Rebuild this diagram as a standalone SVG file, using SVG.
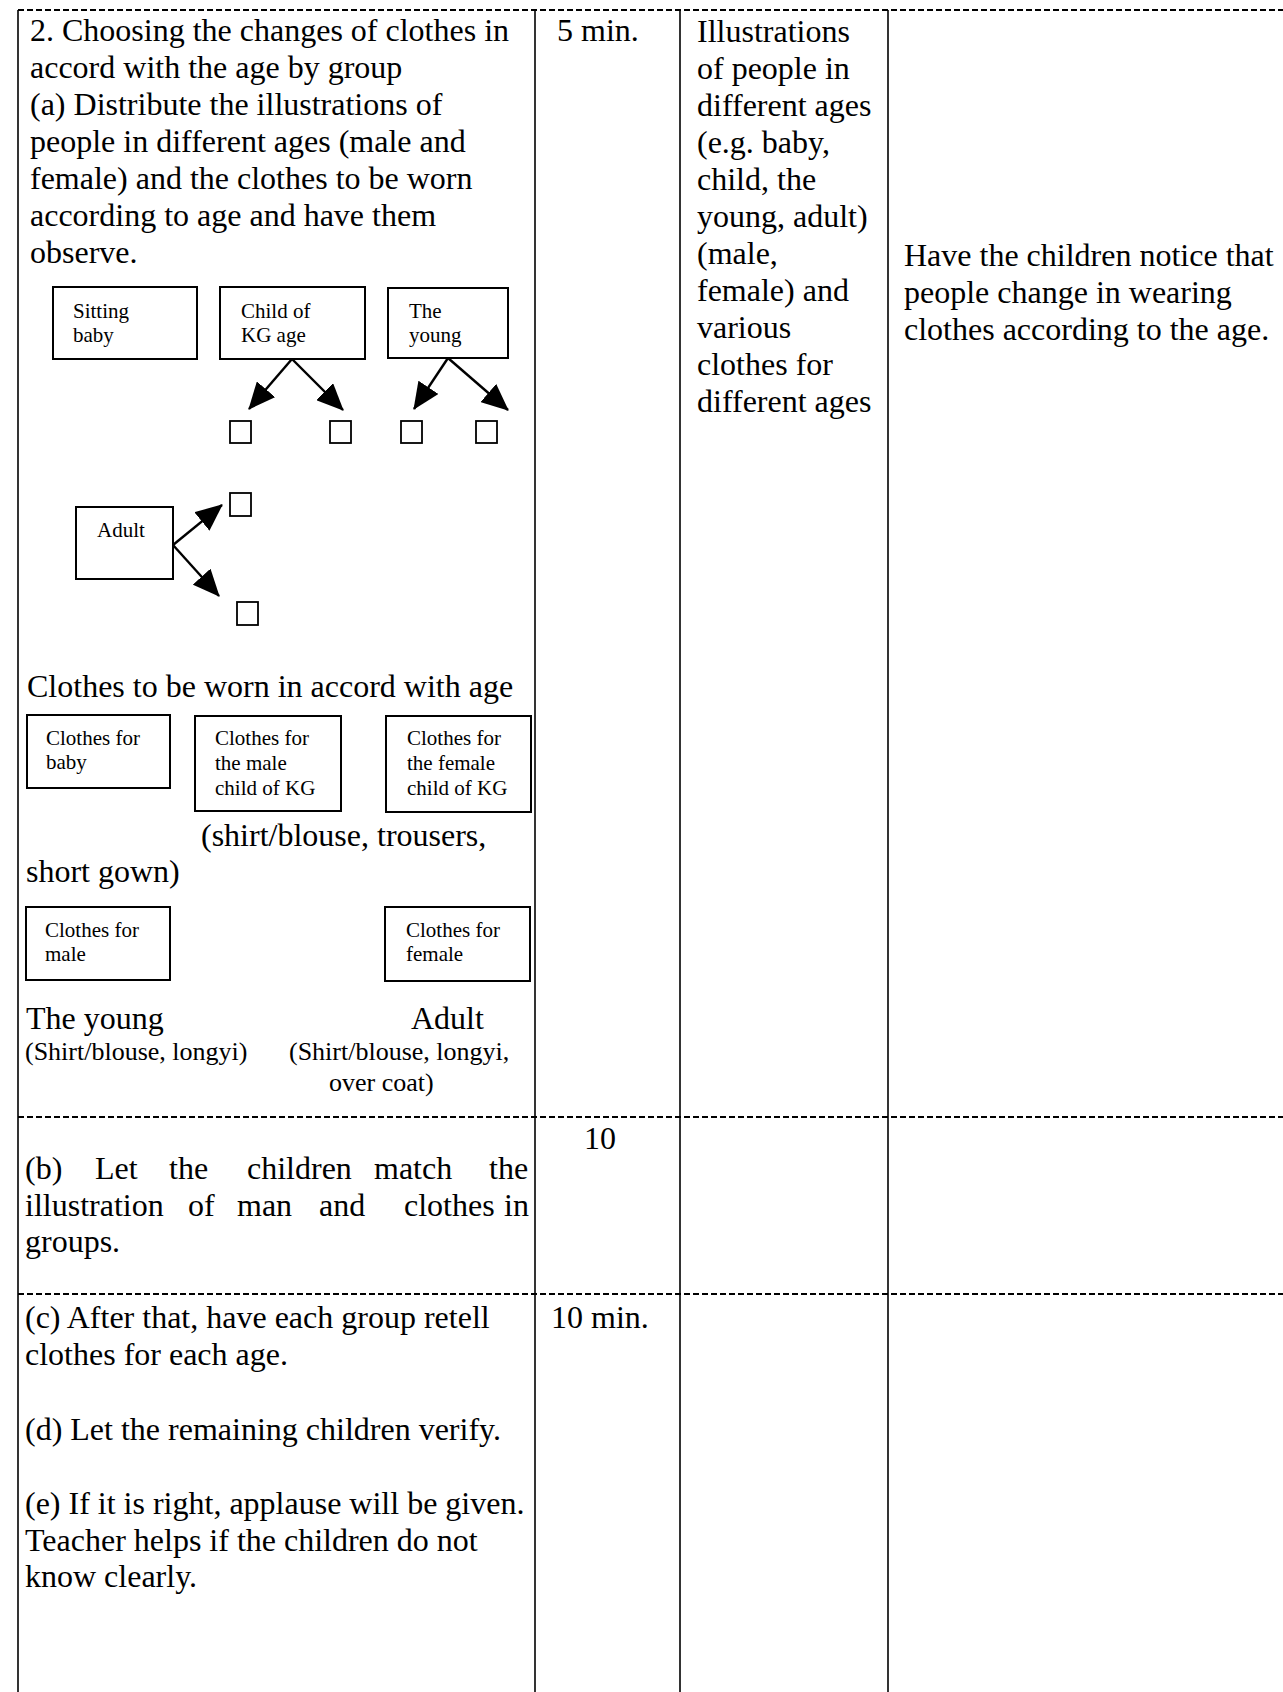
<svg xmlns="http://www.w3.org/2000/svg" width="1283" height="1692" viewBox="0 0 1283 1692">
<style>
text{font-family:"Liberation Serif","Times New Roman",serif;fill:#000}
.t{font-size:32px}
.s{font-size:21px}
.m{font-size:26px}
.grid{stroke:#000;stroke-width:1.6;fill:none}
.dash{stroke:#000;stroke-width:1.8;stroke-dasharray:6 3;fill:none}
.box{fill:#fff;stroke:#000;stroke-width:2}
.sq{fill:#fff;stroke:#000;stroke-width:1.8}
.arr{stroke:#000;stroke-width:2.4;fill:none;marker-end:url(#ah)}
</style>
<defs>
<marker id="ah" markerUnits="userSpaceOnUse" markerWidth="27" markerHeight="24" refX="26" refY="12" orient="auto" viewBox="0 0 27 24">
<path d="M0,0 L27,12 L0,24 z" fill="#000"/>
</marker>
</defs>
<rect width="1283" height="1692" fill="#fff"/>
<g id="table">
<line class="dash" x1="18" y1="10" x2="1283" y2="10"/>
<line class="dash" x1="18" y1="1117" x2="1283" y2="1117"/>
<line class="dash" x1="18" y1="1294" x2="1283" y2="1294"/>
<line class="grid" x1="18" y1="10" x2="18" y2="1692"/>
<line class="grid" x1="535" y1="10" x2="535" y2="1692"/>
<line class="grid" x1="680" y1="10" x2="680" y2="1692"/>
<line class="grid" x1="888" y1="10" x2="888" y2="1692"/>
</g>
<g id="col1-intro" class="t">
<text x="30" y="41">2. Choosing the changes of clothes in</text>
<text x="30" y="78">accord with the age by group</text>
<text x="30" y="115">(a) Distribute the illustrations of</text>
<text x="30" y="152">people in different ages (male and</text>
<text x="30" y="189">female) and the clothes to be worn</text>
<text x="30" y="226">according to age and have them</text>
<text x="30" y="263">observe.</text>
</g>
<g id="col2-time1"><text class="t" x="557" y="41">5 min.</text></g>
<g id="col3-materials" class="t">
<text x="697" y="42">Illustrations</text>
<text x="697" y="79">of people in</text>
<text x="697" y="116">different ages</text>
<text x="697" y="153">(e.g. baby,</text>
<text x="697" y="190">child, the</text>
<text x="697" y="227">young, adult)</text>
<text x="697" y="264">(male,</text>
<text x="697" y="301">female) and</text>
<text x="697" y="338">various</text>
<text x="697" y="375">clothes for</text>
<text x="697" y="412">different ages</text>
</g>
<g id="col4-notes" class="t">
<text x="904" y="266">Have the children notice that</text>
<text x="904" y="303">people change in wearing</text>
<text x="904" y="340">clothes according to the age.</text>
</g>
<g id="node-sitting-baby">
<rect class="box" x="53" y="287" width="144" height="72"/>
<text class="s" x="73" y="318">Sitting</text>
<text class="s" x="73" y="342">baby</text>
</g>
<g id="node-child-kg">
<rect class="box" x="220" y="287" width="145" height="72"/>
<text class="s" x="241" y="318">Child of</text>
<text class="s" x="241" y="342">KG age</text>
</g>
<g id="node-young">
<rect class="box" x="388" y="288" width="120" height="70"/>
<text class="s" x="409" y="318">The</text>
<text class="s" x="409" y="342">young</text>
</g>
<g id="node-adult">
<rect class="box" x="76" y="507" width="97" height="72"/>
<text class="s" x="97" y="537">Adult</text>
</g>
<g id="node-squares">
<rect class="sq" x="230" y="421" width="21" height="22"/>
<rect class="sq" x="330" y="421" width="21" height="22"/>
<rect class="sq" x="401" y="421" width="21" height="22"/>
<rect class="sq" x="476" y="421" width="21" height="22"/>
<rect class="sq" x="230" y="493" width="21" height="23"/>
<rect class="sq" x="237" y="602" width="21" height="23"/>
</g>
<g id="connectors">
<line class="arr" x1="292" y1="359" x2="249" y2="409"/>
<line class="arr" x1="292" y1="359" x2="343" y2="410"/>
<line class="arr" x1="448" y1="358" x2="414" y2="409"/>
<line class="arr" x1="448" y1="358" x2="508" y2="410"/>
<line class="arr" x1="173" y1="545" x2="222" y2="505"/>
<line class="arr" x1="173" y1="545" x2="219" y2="596"/>
</g>
<g id="clothes-heading"><text class="t" x="27" y="697">Clothes to be worn in accord with age</text></g>
<g id="node-clothes-baby">
<rect class="box" x="27" y="715" width="143" height="73"/>
<text class="s" x="46" y="745">Clothes for</text>
<text class="s" x="46" y="769">baby</text>
</g>
<g id="node-clothes-male-kg">
<rect class="box" x="195" y="716" width="146" height="95"/>
<text class="s" x="215" y="745">Clothes for</text>
<text class="s" x="215" y="770">the male</text>
<text class="s" x="215" y="795">child of KG</text>
</g>
<g id="node-clothes-female-kg">
<rect class="box" x="386" y="716" width="145" height="96"/>
<text class="s" x="407" y="745">Clothes for</text>
<text class="s" x="407" y="770">the female</text>
<text class="s" x="407" y="795">child of KG</text>
</g>
<g id="kg-caption" class="t">
<text x="201" y="846">(shirt/blouse, trousers,</text>
<text x="26" y="882">short gown)</text>
</g>
<g id="node-clothes-male">
<rect class="box" x="26" y="907" width="144" height="73"/>
<text class="s" x="45" y="937">Clothes for</text>
<text class="s" x="45" y="961">male</text>
</g>
<g id="node-clothes-female">
<rect class="box" x="385" y="907" width="145" height="74"/>
<text class="s" x="406" y="937">Clothes for</text>
<text class="s" x="406" y="961">female</text>
</g>
<g id="age-captions">
<text class="t" x="26" y="1029">The young</text>
<text class="t" x="411" y="1029">Adult</text>
<text class="m" x="25" y="1060">(Shirt/blouse, longyi)</text>
<text class="m" x="289" y="1060">(Shirt/blouse, longyi,</text>
<text class="m" x="329" y="1091">over coat)</text>
</g>
<g id="row-b" class="t">
<text y="1179"><tspan x="25">(b)</tspan><tspan x="95">Let</tspan><tspan x="169">the</tspan><tspan x="247">children</tspan><tspan x="374">match</tspan><tspan x="489">the</tspan></text>
<text y="1216"><tspan x="25">illustration</tspan><tspan x="188">of</tspan><tspan x="237">man</tspan><tspan x="319">and</tspan><tspan x="404">clothes</tspan><tspan x="504">in</tspan></text>
<text x="25" y="1252">groups.</text>
<text x="584" y="1149">10</text>
</g>
<g id="row-c" class="t">
<text x="25" y="1328">(c) After that, have each group retell</text>
<text x="25" y="1365">clothes for each age.</text>
<text x="25" y="1440">(d) Let the remaining children verify.</text>
<text x="25" y="1514">(e) If it is right, applause will be given.</text>
<text x="25" y="1551">Teacher helps if the children do not</text>
<text x="25" y="1587">know clearly.</text>
<text x="551" y="1328">10 min.</text>
</g>
</svg>
